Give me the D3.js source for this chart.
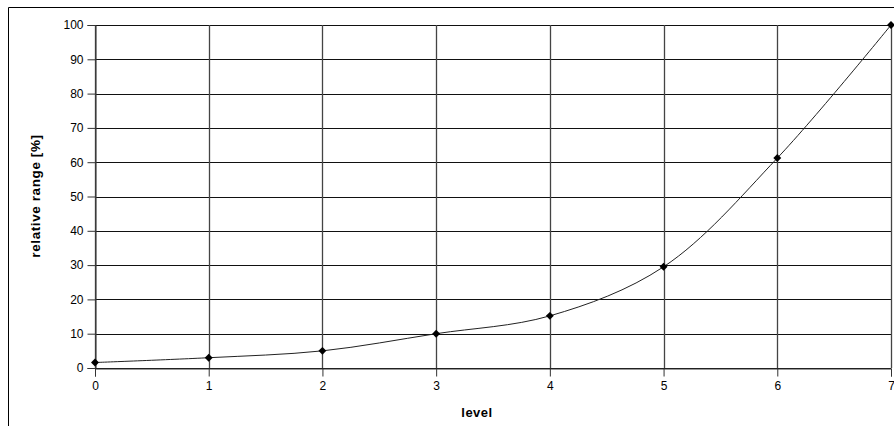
<!DOCTYPE html>
<html>
<head>
<meta charset="utf-8">
<script src="https://cdn.jsdelivr.net/npm/d3@7"></script>
<style>
  body { margin: 0; background: #fff; }
  text { font-family: "Liberation Sans", Arial, sans-serif; }
</style>
</head>
<body>
<script>
let levels = [0, 1, 2, 3, 4, 5, 6, 7]
let range = [1.6, 3.0, 5.0, 10.0, 15.2, 29.5, 61.2, 100]
let yTicks = [0, 10, 20, 30, 40, 50, 60, 70, 80, 90, 100]

let width = 894
let height = 426
let margin = { left: 95, right: 3, top: 25, bottom: 58 }

let svg = d3.select('body').append('svg')
    .attr('width', width)
    .attr('height', height)

// outer chart frame (only top and left edges are visible)
svg.append('path')
    .attr('d', 'M8.5,' + height + 'V7.5H' + width)
    .attr('fill', 'none')
    .attr('stroke', '#000')

let x = d3.scaleLinear().domain([0, 7]).range([margin.left, width - margin.right])
let y = d3.scaleLinear().domain([0, 100]).range([height - margin.bottom, margin.top])

// gridlines
svg.append('g')
    .selectAll('line')
    .data(yTicks)
    .enter().append('line')
    .attr('x1', x(0)).attr('x2', x(7))
    .attr('y1', d => Math.round(y(d)) + 0.5)
    .attr('y2', d => Math.round(y(d)) + 0.5)
    .attr('stroke', '#111')

svg.append('g')
    .selectAll('line')
    .data(levels)
    .enter().append('line')
    .attr('y1', y(0)).attr('y2', y(100))
    .attr('x1', d => Math.round(x(d)) + 0.5)
    .attr('x2', d => Math.round(x(d)) + 0.5)
    .attr('stroke', '#444')
    .attr('stroke-width', 1.3)

let yAxis = svg.append('g')
    .attr('transform', 'translate(' + (Math.round(x(0)) + 0.5) + ',0)')
    .call(d3.axisLeft(y).tickValues(yTicks).tickFormat(d3.format('d')).tickSize(8).tickPadding(4))

let xAxis = svg.append('g')
    .attr('transform', 'translate(0,' + (Math.round(y(0)) + 0.5) + ')')
    .call(d3.axisBottom(x).tickValues(levels).tickFormat(d3.format('d')).tickSize(8).tickPadding(5))

;[yAxis, xAxis].forEach(a => {
    a.select('.domain').attr('stroke', '#333')
    a.selectAll('.tick line').attr('stroke', '#333')
    a.selectAll('.tick text')
        .attr('fill', '#000')
        .style('font-size', '12px')
        .style('font-family', '"Liberation Sans", Arial, sans-serif')
})

// series
let pts = levels.map((l, i) => [l, range[i]])

let line = d3.line()
    .x(d => x(d[0]))
    .y(d => y(d[1]))
    .curve(d3.curveCatmullRom.alpha(0.5))

svg.append('path')
    .datum(pts)
    .attr('d', line)
    .attr('fill', 'none')
    .attr('stroke', '#222')
    .attr('stroke-width', 1)

svg.append('g')
    .selectAll('path')
    .data(pts)
    .enter().append('path')
    .attr('d', d3.symbol().type(d3.symbolDiamond2).size(40))
    .attr('transform', d => 'translate(' + x(d[0]) + ',' + y(d[1]) + ')')
    .attr('fill', '#000')

// axis titles
svg.append('text')
    .attr('x', 477)
    .attr('y', 417)
    .attr('text-anchor', 'middle')
    .style('font-size', '13px')
    .style('letter-spacing', '0.5px')
    .style('font-weight', 'bold')
    .text('level')

svg.append('text')
    .attr('transform', 'translate(40,196) rotate(-90)')
    .attr('text-anchor', 'middle')
    .style('font-size', '13.5px')
    .style('letter-spacing', '0.6px')
    .style('font-weight', 'bold')
    .text('relative range [%]')
</script>
</body>
</html>
